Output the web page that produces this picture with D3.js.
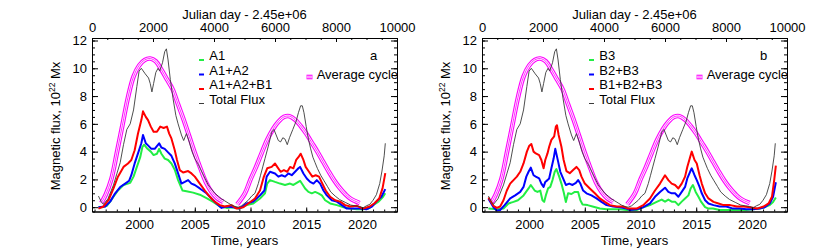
<!DOCTYPE html>
<html>
<head>
<meta charset="utf-8">
<script src="https://cdn.jsdelivr.net/npm/d3@7"></script>
<style>
  body { margin: 0; background: #fff; }
  svg { display: block; font-family: "Liberation Sans", Arial, Helvetica, sans-serif; }
  .axis path, .axis line { stroke: #000; stroke-width: 1; }
  .axis text { font-size: 13px; fill: #000; font-family: "Liberation Sans", Arial, sans-serif; }
</style>
</head>
<body>
<svg id="chart" width="830" height="250"></svg>
<script>
// values: [year, flux in 1e22 Mx]
var totalFlux = [
  [1996.35,0.8],[1996.6,0.4],[1996.8,0.2],[1997.2,0.6],[1997.7,1.6],[1998.0,2.4],[1998.3,3.2],
  [1998.6,4.5],[1998.9,5.6],[1999.2,6.0],[1999.5,7.0],[1999.8,8.7],[2000.0,9.8],[2000.2,10.0],
  [2000.55,9.6],[2000.85,9.3],[2001.0,8.9],[2001.15,8.3],[2001.3,8.9],[2001.5,9.7],[2001.7,10.0],
  [2001.85,9.8],[2002.1,10.4],[2002.3,11.2],[2002.45,11.4],[2002.6,10.6],[2002.8,9.2],[2003.05,7.8],
  [2003.3,6.6],[2003.5,6.0],[2003.8,5.2],[2004.0,4.8],[2004.25,5.3],[2004.5,4.7],[2004.75,4.0],
  [2005.0,3.5],[2005.3,3.1],[2005.6,2.6],[2005.9,2.1],[2006.2,1.6],[2006.5,1.3],[2006.8,1.0],
  [2007.1,0.8],[2007.4,0.6],[2007.7,0.45],[2008.0,0.3],[2008.3,0.15],[2008.6,0.05],[2008.9,0.0],
  [2009.2,0.1],[2009.5,0.3],[2009.8,0.5],[2010.1,0.8],[2010.4,1.0],[2010.7,1.7],[2010.9,2.3],
  [2011.1,2.9],[2011.3,3.5],[2011.6,4.4],[2011.9,5.4],[2012.1,5.6],[2012.3,5.2],[2012.5,4.8],
  [2012.7,4.7],[2012.9,5.0],[2013.1,4.9],[2013.3,4.5],[2013.5,5.0],[2013.8,5.6],[2014.1,6.2],
  [2014.3,6.8],[2014.5,7.3],[2014.65,7.3],[2014.8,6.8],[2015.0,5.8],[2015.2,4.9],[2015.4,4.2],
  [2015.6,3.6],[2015.8,3.2],[2016.0,2.8],[2016.3,2.3],[2016.6,1.9],[2016.9,1.5],[2017.2,1.1],
  [2017.6,0.8],[2018.0,0.55],[2018.5,0.35],[2019.0,0.15],[2019.4,0.1],[2019.8,0.05],[2020.1,-0.05],
  [2020.4,0.1],[2020.7,0.2],[2021.0,0.5],[2021.3,0.9],[2021.6,1.7],[2021.8,2.6],[2022.0,3.7],[2022.1,4.6]
];

var avgCycle1 = [
  [1996.6,0.3],[1997.0,0.9],[1997.5,2.0],[1998.0,3.9],[1998.5,5.9],[1999.0,7.9],[1999.5,9.4],
  [2000.0,10.2],[2000.5,10.6],[2001.0,10.7],[2001.5,10.5],[2002.0,9.9],[2002.5,9.2],[2003.0,8.5],
  [2003.5,7.4],[2004.0,6.3],[2004.5,5.1],[2005.0,3.9],[2005.5,2.8],[2006.0,1.8],[2006.5,1.1],
  [2007.0,0.65],[2007.55,0.38]
];
var avgCycle2 = [
  [2008.8,0.2],[2009.5,1.0],[2010.0,2.0],[2010.5,2.9],[2011.0,3.9],[2011.5,4.85],[2012.0,5.6],
  [2012.5,6.15],[2013.0,6.5],[2013.5,6.55],[2014.0,6.3],[2014.5,5.85],[2015.0,5.3],[2015.5,4.65],
  [2016.0,4.0],[2016.5,3.3],[2017.0,2.6],[2017.5,1.95],[2018.0,1.4],[2018.5,0.95],[2019.0,0.6],[2019.8,0.3]
];

// panel a
var fluxA1 = [
  [1996.35,0.0],[1996.7,0.0],[1997.1,0.1],[1997.4,0.4],[1997.7,0.75],[1998.1,1.2],[1998.6,1.6],
  [1999.2,1.75],[1999.5,2.2],[1999.8,2.9],[2000.1,3.6],[2000.3,4.35],[2000.45,4.5],[2000.75,4.2],
  [2001.05,4.0],[2001.3,3.75],[2001.6,3.85],[2001.8,4.2],[2002.0,3.85],[2002.3,3.5],[2002.6,3.4],
  [2002.9,3.15],[2003.2,2.7],[2003.5,1.95],[2003.9,1.2],[2004.25,1.15],[2004.85,1.05],[2005.45,0.9],
  [2006.05,0.65],[2006.65,0.38],[2007.25,0.05],[2007.85,-0.05],[2008.4,0.0],[2009.0,-0.1],
  [2009.65,0.15],[2010.25,0.27],[2010.85,0.63],[2011.3,1.0],[2011.5,1.7],[2011.75,1.95],[2012.2,1.82],
  [2012.65,1.7],[2013.1,1.6],[2013.55,1.7],[2013.85,1.6],[2014.15,1.75],[2014.45,1.9],[2014.7,1.6],
  [2014.9,1.35],[2015.2,1.1],[2015.5,1.0],[2015.8,1.1],[2016.1,1.0],[2016.4,0.85],[2016.7,0.5],
  [2017.15,0.27],[2017.75,0.15],[2018.35,0.0],[2018.95,-0.1],[2019.55,-0.15],[2020.1,-0.15],
  [2020.6,-0.1],[2021.0,0.15],[2021.5,0.4],[2021.9,0.75],[2022.1,1.0]
];
var fluxA1A2 = [
  [1996.35,0.0],[1996.95,0.05],[1997.4,0.4],[1997.85,1.0],[1998.3,1.45],[1998.75,1.7],[1999.1,1.9],
  [1999.3,2.3],[1999.6,3.15],[1999.9,3.87],[2000.2,4.6],[2000.35,5.2],[2000.6,4.6],[2000.8,4.45],
  [2001.1,4.2],[2001.4,4.2],[2001.6,4.4],[2001.8,4.6],[2002.0,4.3],[2002.3,4.2],[2002.6,3.95],
  [2002.9,3.7],[2003.2,3.15],[2003.5,2.43],[2003.8,1.7],[2004.1,1.82],[2004.4,1.95],[2004.7,1.7],
  [2005.0,1.6],[2005.45,1.35],[2006.05,1.0],[2006.5,0.63],[2006.95,0.27],[2007.4,-0.05],[2007.85,0.05],
  [2008.45,0.0],[2009.0,-0.1],
  [2009.65,0.27],[2010.25,0.4],[2010.85,0.85],[2011.25,1.2],[2011.45,2.2],[2011.75,2.55],[2012.2,2.43],
  [2012.5,2.2],[2012.8,2.3],[2013.1,2.2],[2013.4,2.43],[2013.7,2.3],[2014.0,2.55],[2014.3,2.8],
  [2014.45,2.9],[2014.75,2.43],[2015.05,2.07],[2015.35,1.82],[2015.65,1.7],[2015.95,1.95],[2016.25,1.7],
  [2016.55,1.2],[2016.85,0.85],[2017.3,0.5],[2017.75,0.4],[2018.2,0.15],[2018.65,-0.1],[2019.25,-0.1],
  [2019.85,-0.1],[2020.4,-0.15],[2020.9,0.05],[2021.3,0.4],[2021.75,0.75],[2022.1,1.3]
];
var fluxA1A2B1 = [
  [1996.35,-0.1],[1996.8,0.05],[1997.25,0.5],[1997.7,1.35],[1998.1,2.2],[1998.6,2.9],[1999.0,3.15],
  [1999.3,3.4],[1999.6,4.1],[1999.9,5.3],[2000.2,6.27],[2000.35,6.9],[2000.6,6.5],[2000.8,6.27],
  [2001.05,5.8],[2001.3,5.43],[2001.6,5.43],[2001.9,5.8],[2002.2,5.7],[2002.5,5.8],[2002.7,5.3],
  [2002.9,4.95],[2003.2,4.1],[2003.4,3.4],[2003.65,2.67],[2003.95,2.5],[2004.4,2.6],[2004.7,2.43],
  [2005.0,2.2],[2005.45,1.7],[2005.9,1.2],[2006.35,0.75],[2006.8,0.38],[2007.25,0.15],[2007.7,0.05],
  [2008.3,0.15],[2008.75,-0.1],
  [2009.35,0.0],[2009.8,0.27],[2010.4,0.63],[2010.85,1.2],[2011.2,2.2],[2011.5,2.8],[2011.9,2.9],
  [2012.2,3.15],[2012.4,2.9],[2012.7,2.55],[2013.0,2.67],[2013.3,2.55],[2013.55,2.9],[2013.85,2.8],
  [2014.1,3.4],[2014.3,3.6],[2014.5,3.85],[2014.75,3.4],[2014.95,2.9],[2015.25,2.55],[2015.55,2.2],
  [2015.85,2.3],[2016.15,2.2],[2016.45,1.7],[2016.75,1.2],[2017.15,0.75],[2017.6,0.5],[2018.05,0.4],
  [2018.5,0.15],[2018.95,0.05],[2019.55,0.1],[2020.1,-0.1],[2020.7,0.05],[2021.15,0.3],[2021.55,0.63],
  [2021.85,1.35],[2022.1,2.45]
];

// panel b
var fluxB3 = [
  [1996.35,-0.1],[1997.1,-0.15],[1997.7,-0.1],[1998.15,0.27],[1998.6,0.38],[1999.0,0.5],[1999.5,0.85],
  [1999.95,1.35],[2000.15,1.6],[2000.5,1.2],[2000.75,1.1],[2001.0,1.2],[2001.2,0.5],[2001.35,0.38],
  [2001.5,0.85],[2001.7,1.35],[2001.9,1.46],[2002.1,1.95],[2002.3,2.55],[2002.45,2.75],[2002.7,2.2],
  [2002.9,1.7],[2003.1,1.1],[2003.3,0.38],[2003.5,1.0],[2003.8,0.95],[2004.1,1.1],[2004.4,1.1],
  [2004.6,0.5],[2004.8,0.2],[2005.25,0.15],[2005.7,0.05],[2006.35,-0.1],[2006.95,-0.15],[2007.55,-0.15],
  [2008.15,-0.15],[2008.75,-0.2],
  [2009.65,-0.2],[2010.25,0.0],[2010.85,0.15],[2011.45,0.38],[2011.9,0.55],[2012.2,0.4],[2012.5,0.55],
  [2012.8,0.4],[2013.1,0.4],[2013.4,0.15],[2013.7,0.4],[2014.0,0.63],[2014.3,0.85],[2014.5,1.35],
  [2014.7,1.6],[2014.95,1.1],[2015.2,0.75],[2015.45,0.38],[2015.8,0.0],[2016.1,-0.1],[2016.5,-0.1],
  [2017.1,-0.2],[2018.3,-0.2],[2019.5,-0.2],[2020.1,-0.15],[2020.7,-0.1],[2021.15,0.0],[2021.6,0.15],
  [2021.9,0.38],[2022.15,0.7]
];
var fluxB2B3 = [
  [1996.35,0.6],[1996.8,0.0],[1997.1,-0.25],[1997.4,-0.2],[1997.8,0.15],[1998.3,0.63],[1998.75,0.85],
  [1999.2,1.1],[1999.5,1.46],[1999.75,2.2],[1999.95,2.55],[2000.15,2.85],[2000.4,2.3],[2000.6,2.2],
  [2000.9,2.07],[2001.1,1.7],[2001.3,1.46],[2001.45,1.82],[2001.65,1.95],[2001.8,2.07],[2002.0,2.8],
  [2002.2,3.5],[2002.35,4.2],[2002.6,3.3],[2002.8,2.55],[2003.05,2.07],[2003.3,1.6],[2003.6,1.7],
  [2003.9,1.6],[2004.2,1.75],[2004.4,1.95],[2004.6,1.7],[2004.85,1.2],[2005.15,1.0],[2005.6,0.85],
  [2006.05,0.63],[2006.5,0.38],[2006.95,0.15],[2007.55,0.05],[2008.15,0.0],[2008.75,-0.1],
  [2009.05,-0.2],[2009.65,-0.15],[2010.25,0.0],[2010.85,0.27],[2011.3,0.75],[2011.75,1.1],[2012.2,1.4],
  [2012.5,1.1],[2012.8,1.0],[2013.1,1.0],[2013.4,0.75],[2013.7,1.1],[2014.0,1.46],[2014.2,2.07],
  [2014.45,2.55],[2014.6,2.8],[2014.85,2.3],[2015.05,1.95],[2015.3,1.46],[2015.5,1.0],[2015.8,0.5],
  [2016.1,0.27],[2016.55,0.15],[2017.1,0.05],[2017.7,0.05],[2018.3,-0.1],[2018.9,-0.1],[2019.5,-0.15],
  [2020.1,-0.15],[2020.7,-0.1],[2021.15,0.0],[2021.6,0.27],[2021.9,0.75],[2022.15,1.8]
];
var fluxB1B2B3 = [
  [1996.35,0.7],[1996.8,0.1],[1997.1,-0.05],[1997.4,0.05],[1997.7,0.5],[1998.0,1.2],[1998.3,1.7],
  [1998.6,1.95],[1998.9,2.2],[1999.2,2.55],[1999.5,3.15],[1999.8,4.0],[2000.0,4.4],[2000.2,4.55],
  [2000.4,4.0],[2000.6,3.87],[2000.9,3.75],[2001.1,3.4],[2001.3,2.8],[2001.45,3.4],[2001.65,3.87],
  [2001.8,4.35],[2002.0,4.85],[2002.25,5.1],[2002.4,5.8],[2002.5,5.9],[2002.65,5.2],[2002.9,4.35],
  [2003.1,3.4],[2003.35,2.6],[2003.65,2.45],[2003.95,2.67],[2004.25,2.9],[2004.5,2.67],[2004.7,2.2],
  [2005.0,1.7],[2005.45,1.35],[2005.9,1.0],[2006.35,0.63],[2006.8,0.38],[2007.25,0.15],[2007.85,0.05],
  [2008.45,0.05],[2008.9,-0.1],
  [2009.65,-0.1],[2010.25,0.15],[2010.85,0.63],[2011.3,1.2],[2011.75,1.7],[2012.2,2.3],[2012.5,1.95],
  [2012.8,1.7],[2013.1,1.6],[2013.4,1.35],[2013.7,1.7],[2014.0,2.2],[2014.2,2.9],[2014.45,3.6],
  [2014.6,4.0],[2014.85,3.4],[2015.05,3.15],[2015.3,2.3],[2015.5,1.7],[2015.8,1.0],[2016.1,0.63],
  [2016.55,0.38],[2017.0,0.27],[2017.45,0.15],[2018.05,0.15],[2018.65,0.05],[2019.25,0.05],
  [2019.85,0.0],[2020.45,-0.1],[2021.05,0.05],[2021.5,0.27],[2021.8,0.75],[2022.0,1.95],[2022.15,3.0]
];

var namesA = ['A1', 'A1+A2', 'A1+A2+B1'];
var namesB = ['B3', 'B2+B3', 'B1+B2+B3'];
var seriesColors = ['#22ee44', '#0000ff', '#ff0000'];
var jdTicks = [0, 2000, 4000, 6000, 8000, 10000];
var yearTicks = [2000, 2005, 2010, 2015, 2020];
var fluxTicks = [0, 2, 4, 6, 8, 10, 12];

var svg = d3.select('#chart');
var plotW = 305, plotTop = 38, plotBottom = 211.5;
// magenta / white / magenta stripes of the average cycle
var stripes = [[4.6, '#ff00ff'], [2.4, '#fff'], [0.8, '#ff00ff']];

// Julian day offset 2.45e6 -> decimal year
function jdToYear(d) { return 2000 + (d + 2450000 - 2451544.5) / 365.25; }

var panels = [
  { left: 92, names: namesA, series: [fluxA1, fluxA1A2, fluxA1A2B1], tag: 'a' },
  { left: 482, names: namesB, series: [fluxB3, fluxB2B3, fluxB1B2B3], tag: 'b' }
];

panels.forEach(function(p, pi) {
  var x0 = p.left, x1 = p.left + plotW;
  var jd = d3.scaleLinear().domain([0, 10000]).range([x0, x1]);
  var x = d3.scaleLinear().domain([jdToYear(0), jdToYear(10000)]).range([x0, x1]);
  var y = d3.scaleLinear().domain([-0.31, 12.18]).range([plotBottom, plotTop]);

  var g = svg.append('g');
  g.append('clipPath').attr('id', 'clip' + pi)
    .append('rect').attr('x', x0).attr('y', plotTop).attr('width', plotW).attr('height', plotBottom - plotTop);

  var line = d3.line().x(function(d) { return x(d[0]); }).y(function(d) { return y(d[1]); });
  var smooth = d3.line().curve(d3.curveCatmullRom)
    .x(function(d) { return x(d[0]); }).y(function(d) { return y(d[1]); });

  var plot = g.append('g').attr('clip-path', 'url(#clip' + pi + ')');

  [avgCycle1, avgCycle2].forEach(function(c) {
    stripes.forEach(function(s) {
      plot.append('path').attr('d', smooth(c)).attr('fill', 'none').attr('stroke', s[1]).attr('stroke-width', s[0]);
    });
  });

  p.series.forEach(function(s, i) {
    plot.append('path').attr('d', line(s)).attr('fill', 'none')
      .attr('stroke', seriesColors[i]).attr('stroke-width', 2).attr('stroke-linejoin', 'round');
  });
  plot.append('path').attr('d', line(totalFlux)).attr('fill', 'none')
    .attr('stroke', '#3a3a3a').attr('stroke-width', 0.9);

  // axes
  g.append('g').attr('class', 'axis').attr('transform', 'translate(0,' + plotBottom + ')')
    .call(d3.axisBottom(x).tickValues(d3.range(1996, 2024)).tickSize(-2).tickFormat(''));
  g.append('g').attr('class', 'axis').attr('transform', 'translate(0,' + plotBottom + ')')
    .call(d3.axisBottom(x).tickValues(yearTicks).tickSizeInner(-4).tickSizeOuter(0).tickPadding(8).tickFormat(d3.format('d')));

  g.append('g').attr('class', 'axis').attr('transform', 'translate(0,' + plotTop + ')')
    .call(d3.axisTop(jd).tickValues(d3.range(500, 10000, 500)).tickSize(-2).tickFormat(''));
  g.append('g').attr('class', 'axis').attr('transform', 'translate(0,' + plotTop + ')')
    .call(d3.axisTop(jd).tickValues(jdTicks).tickSizeInner(-4).tickSizeOuter(0).tickPadding(6).tickFormat(d3.format('d')));

  g.append('g').attr('class', 'axis').attr('transform', 'translate(' + x0 + ',0)')
    .call(d3.axisLeft(y).tickValues(d3.range(0, 12.1, 0.5)).tickSize(-3).tickFormat(''));
  g.append('g').attr('class', 'axis').attr('transform', 'translate(' + x0 + ',0)')
    .call(d3.axisLeft(y).tickValues(fluxTicks).tickSizeInner(-6).tickSizeOuter(0).tickPadding(5).tickFormat(d3.format('d')));

  g.append('g').attr('class', 'axis').attr('transform', 'translate(' + x1 + ',0)')
    .call(d3.axisRight(y).tickValues(d3.range(0, 12.1, 0.5)).tickSize(-3).tickFormat(''));
  g.append('g').attr('class', 'axis').attr('transform', 'translate(' + x1 + ',0)')
    .call(d3.axisRight(y).tickValues(fluxTicks).tickSizeInner(-6).tickSizeOuter(0).tickFormat(''));

  // titles
  var cx = x0 + plotW / 2;
  g.append('text').attr('x', cx).attr('y', 18.5).attr('text-anchor', 'middle')
    .attr('font-size', 13).text('Julian day - 2.45e+06');
  g.append('text').attr('x', cx).attr('y', 245).attr('text-anchor', 'middle')
    .attr('font-size', 13).text('Time, years');
  var yt = g.append('text').attr('transform', 'translate(' + (x0 - 32.5) + ',126) rotate(-90)')
    .attr('text-anchor', 'middle').attr('font-size', 13);
  yt.append('tspan').text('Magnetic flux, 10');
  yt.append('tspan').attr('dy', -5).attr('font-size', 8.5).text('22');
  yt.append('tspan').attr('dy', 5).text(' Mx');

  // legend
  p.names.concat(['Total Flux']).forEach(function(name, i) {
    var by = 60 + 14.5 * i;
    g.append('line').attr('x1', x0 + 107).attr('x2', x0 + 112).attr('y1', by).attr('y2', by)
      .attr('stroke', i < 3 ? seriesColors[i] : '#3a3a3a').attr('stroke-width', i < 3 ? 2 : 1);
    g.append('text').attr('x', x0 + 117.3).attr('y', by).attr('font-size', 13).text(name);
  });
  stripes.forEach(function(s) {
    g.append('line').attr('x1', x0 + 214.5).attr('x2', x0 + 220.5).attr('y1', 77).attr('y2', 77)
      .attr('stroke', s[1]).attr('stroke-width', s[0]);
  });
  g.append('text').attr('x', x0 + 224.7).attr('y', 79).attr('font-size', 13).text('Average cycle');
  g.append('text').attr('x', x0 + 278).attr('y', 59.5).attr('font-size', 13).text(p.tag);
});
</script>
</body>
</html>
